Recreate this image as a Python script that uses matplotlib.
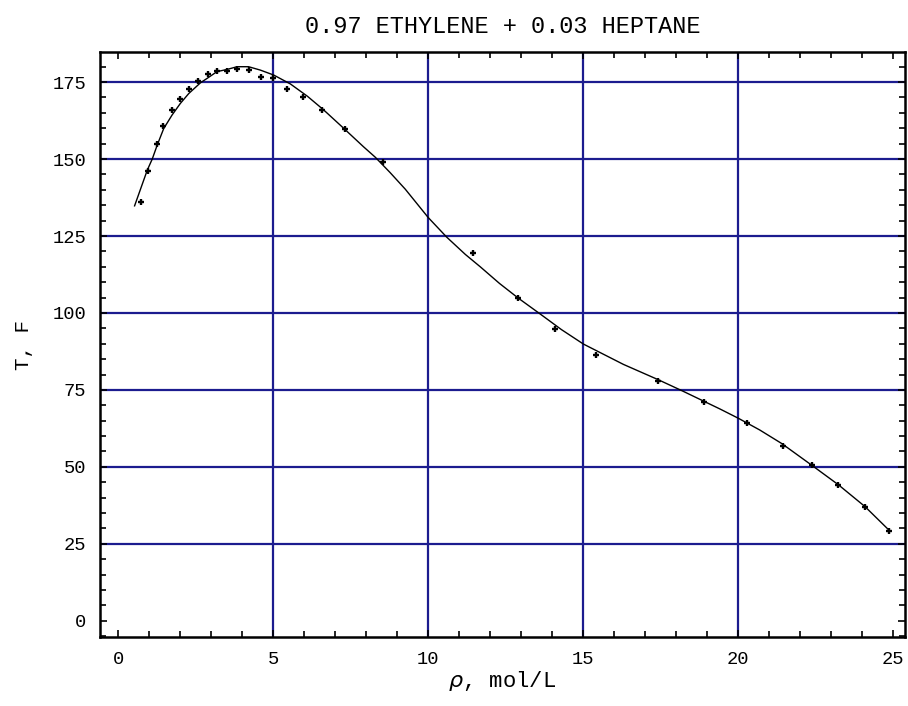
import numpy as np
import matplotlib.pyplot as plt
from matplotlib.ticker import MultipleLocator

# measured points (rho, T)
rho = [0.73, 0.95, 1.24, 1.45, 1.72, 2.00, 2.28, 2.56, 2.89, 3.18, 3.49, 3.83,
       4.23, 4.59, 5.00, 5.43, 5.97, 6.58, 7.30, 8.53, 11.44, 12.91, 14.10,
       15.42, 17.43, 18.91, 20.28, 21.44, 22.40, 23.24, 24.10, 24.88]
temp = [135.9, 146.1, 154.8, 160.6, 165.8, 169.6, 172.9, 175.3, 177.5, 178.6,
        178.7, 179.3, 178.8, 176.7, 176.4, 172.9, 170.2, 165.9, 159.9, 148.9,
        119.4, 105.0, 94.8, 86.3, 78.0, 71.0, 64.2, 56.9, 50.6, 44.2, 37.1, 29.2]

# fitted curve
fit_rho = [0.52, 0.93, 1.09, 1.25, 1.46, 1.73, 2.00, 2.27, 2.65, 2.86, 3.18,
           3.50, 3.83, 4.20, 4.58, 5.01, 5.55, 6.10, 6.62, 7.27, 7.91, 8.29,
           8.77, 9.26, 10.0, 10.6, 11.2, 11.68, 12.3, 12.91, 13.61, 14.3,
           15.01, 16.3, 17.43, 18.18, 19.42, 20.01, 20.7, 21.41, 22.40, 23.24,
           24.10, 24.90]
fit_temp = [134.8, 146.4, 150.0, 154.5, 159.9, 164.3, 168.1, 171.3, 174.8,
            176.2, 178.4, 179.1, 180.0, 180.0, 178.9, 177.3, 174.4, 170.4,
            166.0, 160.0, 154.0, 150.6, 145.6, 140.2, 131.0, 124.6, 119.0,
            115.0, 109.6, 104.8, 99.7, 94.6, 89.9, 83.3, 78.3, 74.8, 68.8,
            65.8, 62.0, 57.6, 50.4, 44.2, 37.1, 29.2]

mono = 'Liberation Mono'
navy = '#1c1c8f'

fig = plt.figure(figsize=(9.08, 7.06), dpi=100)
ax = fig.add_axes([0.110, 0.098, 0.887, 0.828])

ax.set_xlim(-0.6, 25.4)
ax.set_ylim(-5.2, 184.7)

for v in [5, 10, 15, 20]:
  ax.axvline(v, color=navy, lw=1.6, zorder=1)
for v in [25, 50, 75, 100, 125, 150, 175]:
  ax.axhline(v, color=navy, lw=1.6, zorder=1)

ax.plot(fit_rho, fit_temp, color='black', lw=1.0, zorder=3)
ax.plot(rho, temp, ls='none', marker='+', ms=5, mew=1.7, color='black', zorder=4)

ax.xaxis.set_major_locator(MultipleLocator(5))
ax.xaxis.set_minor_locator(MultipleLocator(1))
ax.yaxis.set_major_locator(MultipleLocator(25))
ax.yaxis.set_minor_locator(MultipleLocator(5))
ax.tick_params(which='both', direction='in', top=True, right=True, width=1.2, color='black')
ax.tick_params(which='major', length=5, labelsize=13.5, pad=10)
ax.tick_params(which='minor', length=4)
for lab in ax.get_xticklabels() + ax.get_yticklabels():
  lab.set_family(mono)
for sp in ax.spines.values():
  sp.set_linewidth(1.8)

ax.set_title('0.97 ETHYLENE + 0.03 HEPTANE', family=mono, fontsize=17, pad=14)
ax.set_xlabel(r'$\rho$, mol/L', family=mono, fontsize=16, labelpad=1)
ax.set_ylabel('T, F', family=mono, fontsize=15, labelpad=14)

fig.savefig('out.png', dpi=100)
